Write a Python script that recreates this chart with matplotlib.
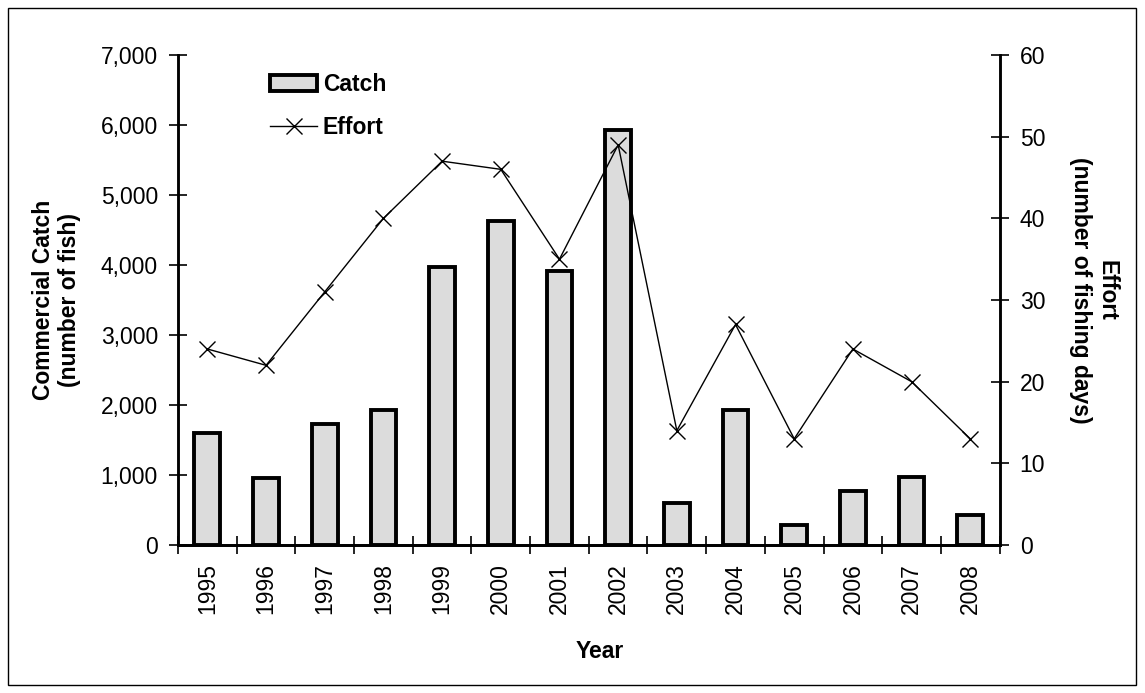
import numpy as np
import matplotlib.pyplot as plt
from matplotlib.patches import Rectangle
from matplotlib.lines import Line2D
from matplotlib.ticker import FuncFormatter

plt.rcParams["font.family"] = ["Liberation Sans", "DejaVu Sans"]

years = ["1995", "1996", "1997", "1998", "1999", "2000", "2001",
         "2002", "2003", "2004", "2005", "2006", "2007", "2008"]
catch = [1600, 950, 1730, 1930, 3970, 4630, 3920,
         5930, 600, 1930, 280, 770, 970, 430]
effort = [24, 22, 31, 40, 47, 46, 35, 49, 14, 27, 13, 24, 20, 13]

FS = 16.5
x = np.arange(len(years))

fig = plt.figure(figsize=(11.45, 6.93), dpi=100)
ax = fig.add_axes([0.1555, 0.2136, 0.7175, 0.707])
ax2 = ax.twinx()

ax.bar(x, catch, width=0.44, facecolor="#dcdcdc", edgecolor="black",
       linewidth=2.8, zorder=2)
ax2.plot(x, effort, color="black", linewidth=1, marker="x",
         markersize=12, markeredgewidth=1)

ax.set_xlim(-0.5, len(years) - 0.5)
ax.set_ylim(0, 7000)
ax2.set_ylim(0, 60)
ax.set_yticks(np.arange(0, 7001, 1000))
ax2.set_yticks(np.arange(0, 61, 10))
ax.yaxis.set_major_formatter(FuncFormatter(lambda v, p: f"{int(v):,}"))

# x ticks at category boundaries, labels at centres
ax.set_xticks(np.arange(-0.5, len(years), 1.0))
ax.set_xticklabels([])
ax.set_xticks(x, minor=True)
ax.set_xticklabels(years, minor=True, rotation=90, fontsize=FS)
ax.tick_params(axis="x", which="minor", length=0, pad=13)
ax.tick_params(axis="x", which="major", direction="inout", length=13, width=1.2)
ax.tick_params(axis="y", direction="inout", length=13, width=1.2, labelsize=FS, pad=8)
ax2.tick_params(axis="y", direction="inout", length=13, width=1.2, labelsize=FS, pad=8)

for a in (ax, ax2):
    a.spines["top"].set_visible(False)
    a.spines["left"].set_linewidth(1.8)
    a.spines["right"].set_linewidth(1.8)
    a.spines["bottom"].set_linewidth(2)

ax.set_xlabel("Year", fontsize=FS, fontweight="bold")
ax.xaxis.set_label_coords(0.513, -0.218)
ax.xaxis.label.set_va("center")

ax.set_ylabel("Commercial Catch\n(number of fish)", fontsize=FS, fontweight="bold")
ax.yaxis.set_label_coords(-0.148, 0.5)
ax.yaxis.label.set_va("center")

ax2.set_ylabel("Effort\n(number of fishing days)", fontsize=FS,
               fontweight="bold", rotation=270)
ax2.yaxis.set_label_coords(1.115, 0.52)
ax2.yaxis.label.set_va("center")

handles = [
    Rectangle((0, 0), 1, 1, facecolor="#dcdcdc", edgecolor="black", linewidth=2.8),
    Line2D([], [], color="black", linewidth=1, marker="x", markersize=12),
]
ax.legend(handles, ["Catch", "Effort"], loc="upper left",
          bbox_to_anchor=(0.112, 0.963), frameon=False,
          prop={"weight": "bold", "size": FS}, handlelength=2.05,
          handletextpad=0.26, labelspacing=0.87, borderpad=0, borderaxespad=0)

fig.patches.append(Rectangle((0.007, 0.012), 0.985, 0.977, transform=fig.transFigure,
                             fill=False, edgecolor="black", linewidth=1))

fig.savefig("out.png", dpi=100)
